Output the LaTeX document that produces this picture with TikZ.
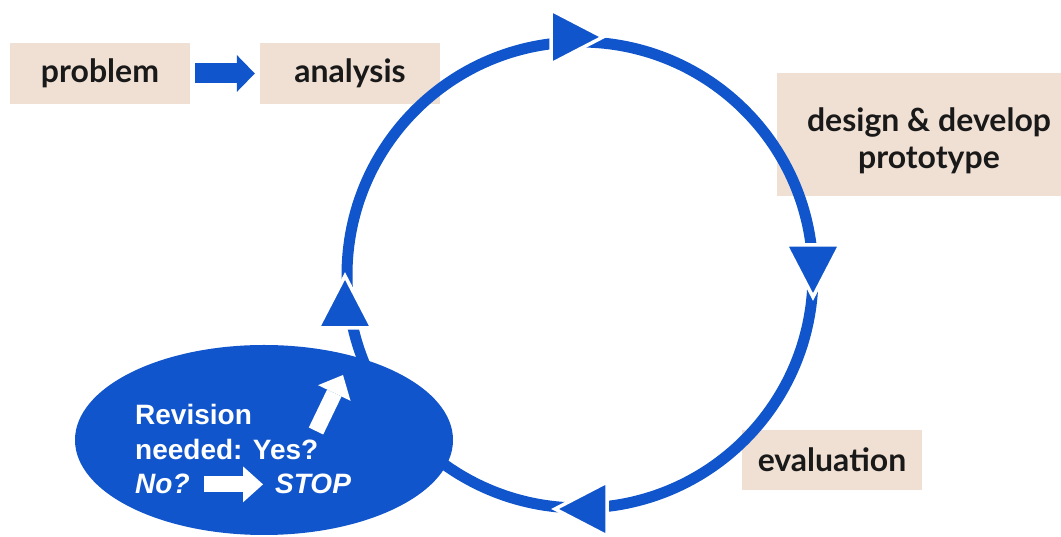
\documentclass[tikz,border=0pt]{standalone}
\usepackage{fontspec}
\setmainfont{Lato}
\newfontfamily\slidefont{Liberation Sans}
\usetikzlibrary{arrows.meta,shapes.geometric}
\definecolor{cycleblue}{HTML}{1155CC}
\definecolor{stepbeige}{HTML}{F0E0D3}
\tikzset{
  stepbox/.style={fill=stepbeige, text=black!90, inner sep=0pt,
    minimum width=180pt, minimum height=61pt,
    font=\fontsize{32}{37}\selectfont\bfseries},
  cycleline/.style={draw=cycleblue, line width=11pt},
  headtri/.style={fill=cycleblue, draw=white, line width=3.5pt, line join=miter},
  revbubble/.style={ellipse, fill=cycleblue, minimum width=378pt, minimum height=190pt, inner sep=0pt},
  bubbletext/.style={text=white, inner sep=0pt, anchor=base west,
    font=\slidefont\fontsize{28}{34}\selectfont\bfseries},
  bluearrow/.style={draw=cycleblue, line width=20pt,
    -{Triangle[length=18pt,width=37pt,line width=0pt]}},
  whitearrow/.style={draw=white, line width=16pt,
    -{Triangle[length=20pt,width=36pt,line width=0pt]}}
}
\begin{document}
\begin{tikzpicture}[x=1pt,y=1pt]
  \useasboundingbox (0,0) rectangle (1061,537);
  % the four steps
  \node[stepbox] (problem) at (100,463.5) {problem};
  \node[stepbox] (analysis) at (350,463.5) {analysis};
  \node[stepbox, minimum width=304pt, minimum height=123pt] (design) at (929,402.5) {};
  \node[stepbox, fill=none, align=center] (design text) at ([yshift=-6pt]design.center) {design \& develop\\prototype};
  \node[stepbox, minimum height=60pt] (evaluation) at (832,77) {evaluation};
  \draw[bluearrow, shorten <=5pt, shorten >=5pt] (problem) -- (analysis);
  % the cycle
  \coordinate (hub) at (580,262);
  \draw[cycleline] (hub) circle (233);
  % revision bubble over the cycle
  \node[revbubble] (revise) at (264,97) {};
  % arrow heads on the cycle
  \foreach \x/\y/\r in {577/500/0, 813/266/-90, 581/28/180, 345/235/90}
    \filldraw[headtri, shift={(\x,\y)}, rotate=\r] (-26,-27) -- (26,0) -- (-26,27) -- cycle;
  % text in the bubble
  \node[bubbletext] (rev) at (135,112) {Revision};
  \node[bubbletext] (need) at (135,77) {needed: Yes?};
  \node[bubbletext, font=\slidefont\fontsize{28}{34}\selectfont\bfseries\itshape] (no) at (135,43) {No?};
  \node[bubbletext, font=\slidefont\fontsize{28}{34}\selectfont\bfseries\itshape] (stop) at (275,43) {STOP};
  \draw[whitearrow, shorten <=14pt, shorten >=12pt] (no.east) -- (stop.west);
  \coordinate (yes tail) at (316,106);
  \coordinate (yes tip) at (343,162);
  \draw[whitearrow] (yes tail) -- (yes tip);
\end{tikzpicture}
\end{document}
